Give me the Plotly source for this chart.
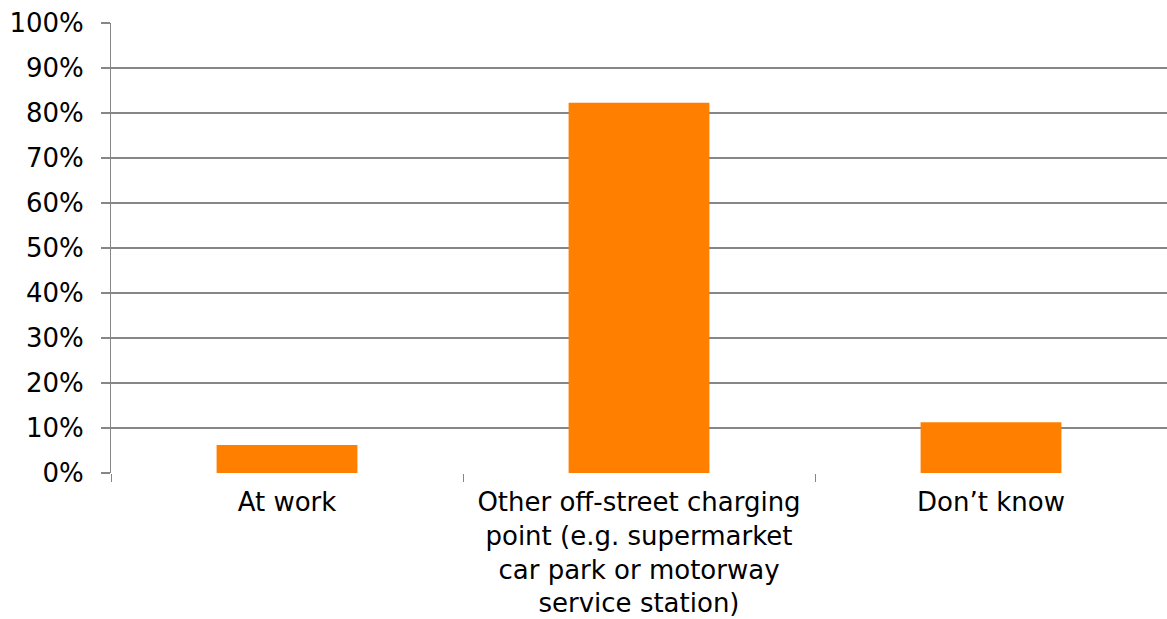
import plotly.graph_objects as go

categories = [
    "At work",
    "Other off-street charging<br>point (e.g. supermarket<br>car park or motorway<br>service station)",
    "Don\u2019t know",
]
shares = [0.062, 0.823, 0.113]

AXIS_GREY = "#868686"
FONT = "Verdana, DejaVu Sans, sans-serif"

fig = go.Figure(
    go.Bar(
        x=categories,
        y=shares,
        width=0.4,
        marker=dict(color="#ff8000", line_width=0),
    )
)
fig.update_layout(
    width=1167,
    height=619,
    margin=dict(l=111, r=0, t=23, b=146),
    paper_bgcolor="white",
    plot_bgcolor="white",
    showlegend=False,
    font=dict(family=FONT, size=26, color="black"),
    xaxis=dict(
        tickson="boundaries",
        ticks="outside",
        ticklen=8,
        tickcolor=AXIS_GREY,
        showgrid=False,
        showline=False,
        automargin=False,
        ticklabelstandoff=11,
        tickfont=dict(size=26),
    ),
    yaxis=dict(
        range=[0, 1],
        dtick=0.1,
        tickformat=".0%",
        showgrid=True,
        gridcolor=AXIS_GREY,
        gridwidth=1.5,
        ticks="outside",
        ticklen=9,
        tickcolor=AXIS_GREY,
        tickwidth=1.5,
        showline=True,
        linecolor=AXIS_GREY,
        linewidth=1,
        zeroline=False,
        automargin=False,
        ticklabelstandoff=12,
        tickfont=dict(size=26),
    ),
)
# drop the default page margin so the figure sits flush in the window
fig.write_html(
    "out.html",
    config={"displayModeBar": False},
    post_script="document.body.style.margin='0';document.body.style.overflow='hidden';",
)
